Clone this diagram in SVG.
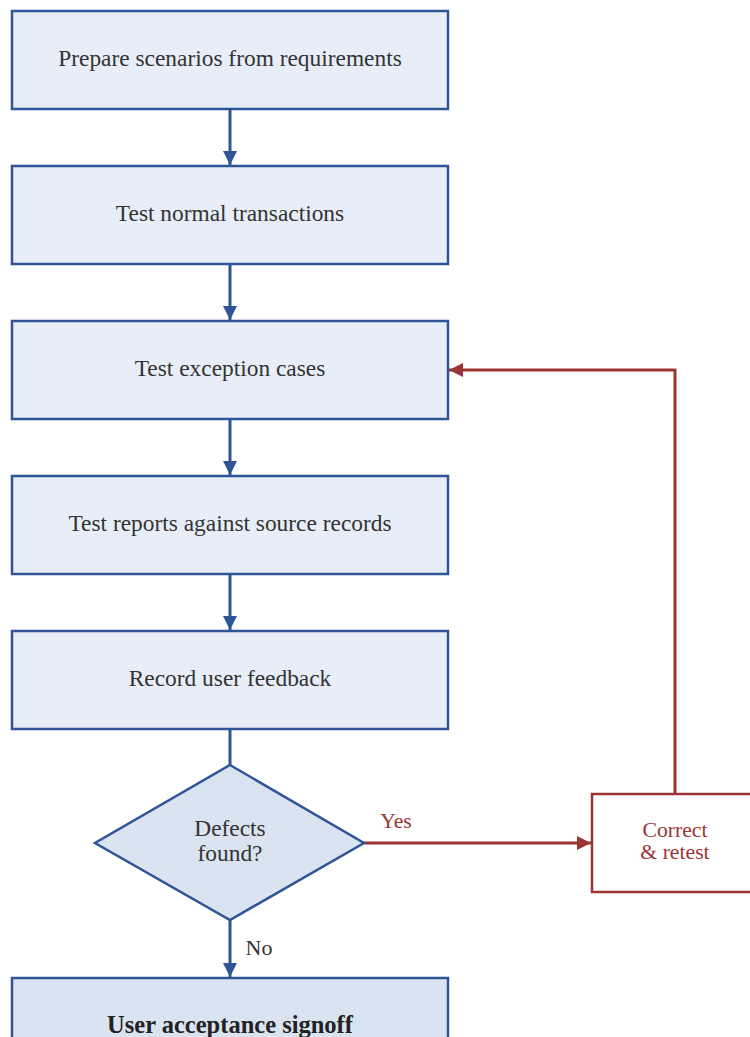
<svg xmlns="http://www.w3.org/2000/svg" width="750" height="1037" viewBox="0 0 750 1037">
<style>
.box{fill:#e8eef7;stroke:#2f5597;stroke-width:2.5}
.dia{fill:#dae4f0;stroke:#2f5597;stroke-width:2.5}
.red{fill:#ffffff;stroke:#9b3535;stroke-width:2.5}
text{font-family:'Liberation Serif','Times New Roman',serif}
.t{font-size:23.4px;fill:#333333;text-anchor:middle}
.tr{font-size:21.7px;fill:#9b3535;text-anchor:middle}
.b{font-weight:bold;font-size:24.5px;fill:#222222}
.cb{fill:none;stroke:#2f5597;stroke-width:3}
.cr{fill:none;stroke:#9b3535;stroke-width:3}
</style>
<defs>
<marker id="ab" markerWidth="14" markerHeight="14" viewBox="0 0 14 14" refX="14" refY="7" orient="auto" markerUnits="userSpaceOnUse"><path d="M0,0 L14,7 L0,14 z" fill="#2f5597"/></marker>
<marker id="ar" markerWidth="14" markerHeight="14" viewBox="0 0 14 14" refX="14" refY="7" orient="auto" markerUnits="userSpaceOnUse"><path d="M0,0 L14,7 L0,14 z" fill="#9b3535"/></marker>
</defs>
<rect width="750" height="1037" fill="#ffffff"/>
<g id="connectors">
<line class="cb" x1="230" y1="109" x2="230" y2="165" marker-end="url(#ab)"/>
<line class="cb" x1="230" y1="264" x2="230" y2="320" marker-end="url(#ab)"/>
<line class="cb" x1="230" y1="419" x2="230" y2="475" marker-end="url(#ab)"/>
<line class="cb" x1="230" y1="574" x2="230" y2="630" marker-end="url(#ab)"/>
<line class="cb" x1="230" y1="729" x2="230" y2="765"/>
<line class="cb" x1="230" y1="920" x2="230" y2="977" marker-end="url(#ab)"/>
<text class="t" x="259" y="955" style="font-size:22px">No</text>
<line class="cr" x1="364" y1="843" x2="591" y2="843" marker-end="url(#ar)"/>
<text class="tr" x="396" y="828">Yes</text>
<polyline class="cr" points="675,794 675,370 449,370" marker-end="url(#ar)"/>
</g>
<g id="n1"><rect class="box" x="12" y="11" width="436" height="98"/><text class="t" x="230" y="66">Prepare scenarios from requirements</text></g>
<g id="n2"><rect class="box" x="12" y="166" width="436" height="98"/><text class="t" x="230" y="221">Test normal transactions</text></g>
<g id="n3"><rect class="box" x="12" y="321" width="436" height="98"/><text class="t" x="230" y="376">Test exception cases</text></g>
<g id="n4"><rect class="box" x="12" y="476" width="436" height="98"/><text class="t" x="230" y="531">Test reports against source records</text></g>
<g id="n5"><rect class="box" x="12" y="631" width="436" height="98"/><text class="t" x="230" y="686">Record user feedback</text></g>
<g id="n6"><polygon class="dia" points="230,765 364,843 230,920 95,843"/><text class="t" x="230" y="836">Defects</text><text class="t" x="230" y="861">found?</text></g>
<g id="n7"><rect class="red" x="592" y="794" width="166" height="98"/><text class="tr" x="675" y="837">Correct</text><text class="tr" x="675" y="859">&amp; retest</text></g>
<g id="n8"><rect class="dia" x="12" y="978" width="436" height="98"/><text class="t b" x="230" y="1033">User acceptance signoff</text></g>
</svg>
